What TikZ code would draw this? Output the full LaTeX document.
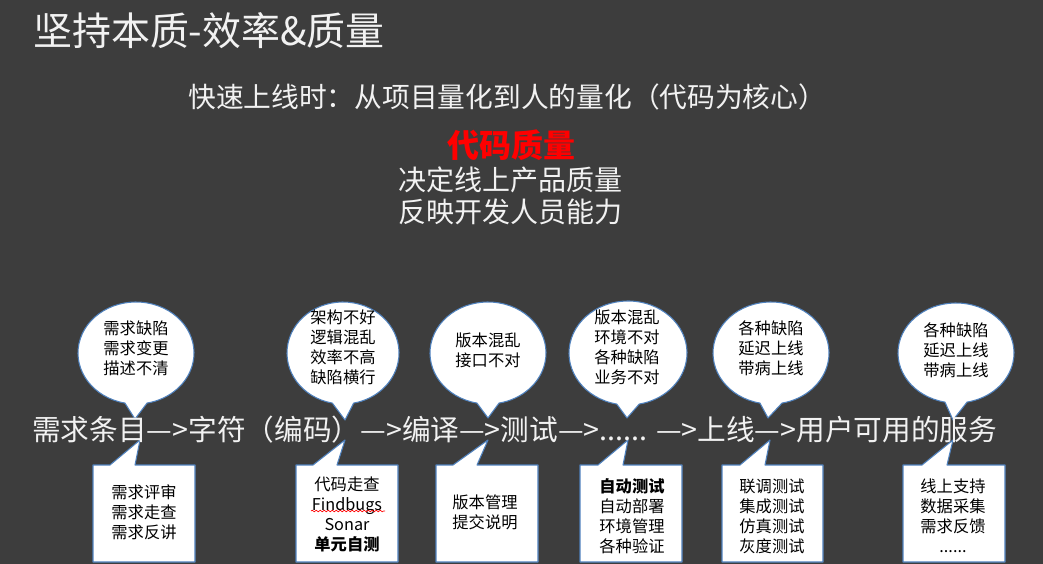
\documentclass[tikz,border=0pt]{standalone}
\usepackage{fontspec}
\setmainfont{Noto Sans CJK SC}
\usepackage{xcolor}
\usetikzlibrary{decorations.pathmorphing}

\definecolor{slidebg}{HTML}{3D3D3D}
\definecolor{slidetext}{HTML}{F2F2F2}
\definecolor{rimblue}{HTML}{4F81BD}

\begin{document}
\begin{tikzpicture}[x=0.75pt,y=-0.75pt,line join=round,
  bubble/.style={draw=rimblue,fill=white,line width=0.8pt},
  slip/.style={draw=rimblue,fill=white,line width=0.8pt},
  note/.style={font=\fontsize{12.2}{15}\selectfont,align=center,inner sep=0pt,text=black},
  slidetxt/.style={text=slidetext,inner sep=0pt,anchor=west}]
  % background
  \fill[slidebg] (0,0) rectangle (1043,564);
  \useasboundingbox (0,0) rectangle (1043,564);
  % bubble centres and tips
  \coordinate (B1) at (136,353);
  \coordinate (B2) at (343,353);
  \coordinate (B3) at (488,353);
  \coordinate (B4) at (628,353);
  \coordinate (B5) at (771,353);
  \coordinate (B6) at (956,353);
  \coordinate (T1) at (135,419);
  \coordinate (T2) at (345,420);
  \coordinate (T3) at (488,418);
  \coordinate (T4) at (627,418);
  \coordinate (T5) at (768,418);
  \coordinate (T6) at (953,420);
  \coordinate (U1) at (140,440);
  \coordinate (U2) at (345,440);
  \coordinate (U3) at (488,440);
  \coordinate (U4) at (628,440);
  \coordinate (U5) at (770,440);
  \coordinate (U6) at (953,440);
  % upper bubbles
  \draw[bubble] (B1) ++(101:58 and 51) arc[start angle=101,end angle=439,x radius=58,y radius=51] -- (T1) -- cycle;
  \draw[bubble] (B2) ++(101:56 and 51) arc[start angle=101,end angle=439,x radius=56,y radius=51] -- (T2) -- cycle;
  \draw[bubble] (B3) ++(101:58 and 51) arc[start angle=101,end angle=439,x radius=58,y radius=51] -- (T3) -- cycle;
  \draw[bubble] (B4) ++(101:59 and 52) arc[start angle=101,end angle=439,x radius=59,y radius=52] -- (T4) -- cycle;
  \draw[bubble] (B5) ++(101:58 and 51) arc[start angle=101,end angle=439,x radius=58,y radius=51] -- (T5) -- cycle;
  \draw[bubble] (B6) ++(101:58 and 50) arc[start angle=101,end angle=439,x radius=58,y radius=50] -- (T6) -- cycle;
  % lower boxes
  \draw[slip] (93,465) -- (110,465) -- (U1) -- (135,465) -- (195,465) -- (195,562) -- (93,562) -- cycle;
  \draw[slip] (296,465) -- (313,465) -- (U2) -- (337,465) -- (398,465) -- (398,562) -- (296,562) -- cycle;
  \draw[slip] (436,465) -- (453,465) -- (U3) -- (477,465) -- (538,465) -- (538,562) -- (436,562) -- cycle;
  \draw[slip] (580,465) -- (598,465) -- (U4) -- (623,465) -- (682,465) -- (682,562) -- (580,562) -- cycle;
  \draw[slip] (722,465) -- (740,465) -- (U5) -- (765,465) -- (823,465) -- (823,562) -- (722,562) -- cycle;
  \draw[slip] (903,465) -- (922,465) -- (U6) -- (947,465) -- (1005,465) -- (1005,562) -- (903,562) -- cycle;
  % bubble texts
  \node[note] (q1) at (136,348) {需求缺陷\\需求变更\\描述不清};
  \node[note] (q2) at (343,347) {架构不好\\逻辑混乱\\效率不高\\缺陷横行};
  \node[note] (q3) at (488,350) {版本混乱\\接口不对};
  \node[note] (q4) at (627,347) {版本混乱\\环境不对\\各种缺陷\\业务不对};
  \node[note] (q5) at (771,348) {各种缺陷\\延迟上线\\带病上线};
  \node[note] (q6) at (956,350) {各种缺陷\\延迟上线\\带病上线};
  % box texts
  \node[note] (a1) at (144,512) {需求评审\\需求走查\\需求反讲};
  \node[note] (a2) at (347,514) {代码走查\\Findbugs\\Sonar\\\textbf{单元自测}};
  \node[note] (a3) at (485,512) {版本管理\\提交说明};
  \node[note] (a4) at (632,516) {\textbf{自动测试}\\自动部署\\环境管理\\各种验证};
  \node[note] (a5) at (772,516) {联调测试\\集成测试\\仿真测试\\灰度测试};
  \node[note] (a6) at (953,516) {线上支持\\数据采集\\需求反馈\\......};
  \draw[red,line width=0.5pt,decorate,decoration={snake,amplitude=0.6pt,segment length=3pt}]
    (311,511) -- (385,511);
  % headings
  \node[slidetxt,font=\fontsize{29.2}{32}\selectfont] (title) at (33,31) {坚持本质-效率\&质量};
  \node[slidetxt,font=\fontsize{20.8}{24}\selectfont] (sub) at (188,97) {快速上线时：从项目量化到人的量化（代码为核心）};
  \node[text=red,inner sep=0pt,font=\fontsize{24}{28}\selectfont\bfseries] (key) at (511,145) {代码质量};
  \node[slidetxt,font=\fontsize{21}{24}\selectfont] (why1) at (398,180) {决定线上产品质量};
  \node[slidetxt,font=\fontsize{21}{24}\selectfont] (why2) at (398,212) {反映开发人员能力};
  % main flow
  \node[slidetxt,font=\fontsize{21.5}{24}\selectfont] (flow) at (32,430) {需求条目—>字符（编码）—>编译—>测试—>...... —>上线—>用户可用的服务};
\end{tikzpicture}
\end{document}
